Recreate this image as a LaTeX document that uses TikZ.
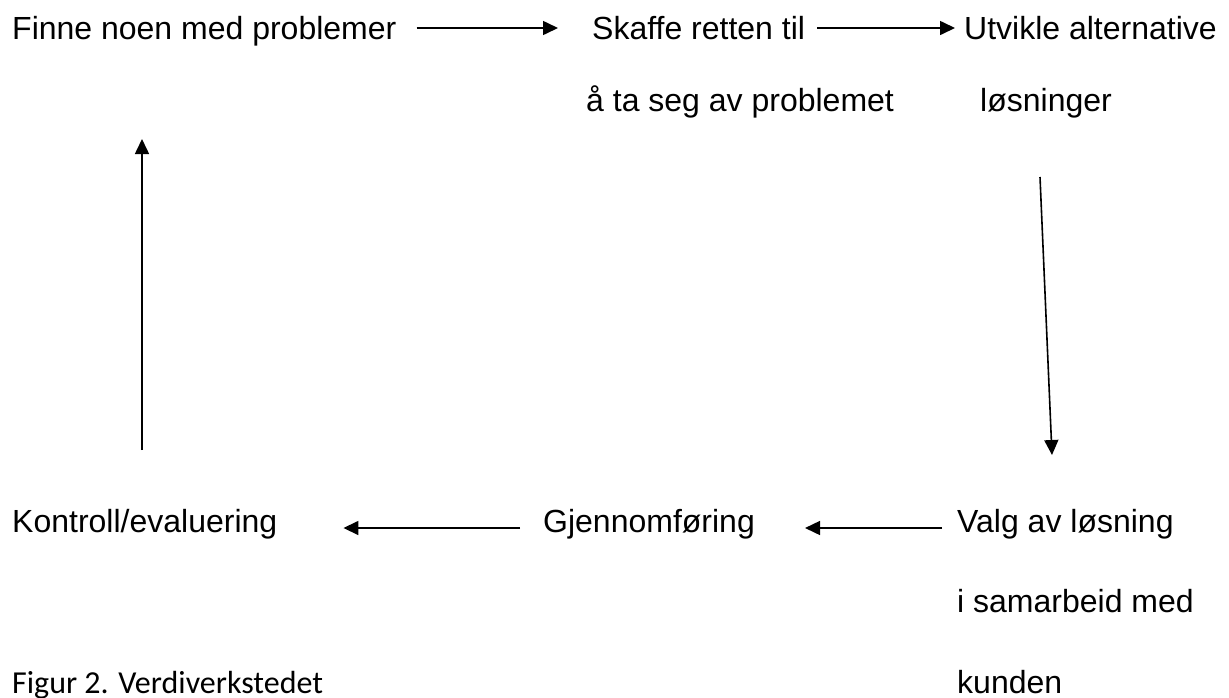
\documentclass[tikz,border=0pt]{standalone}
\usepackage{fontspec}
\setmainfont{Liberation Sans}
\newfontfamily\captionfont{Carlito}
\usepackage{tikz}
\usetikzlibrary{positioning, arrows.meta}

\begin{document}
\begin{tikzpicture}[x=1pt, y=-1pt,
    steptext/.style={anchor=base west, inner sep=0pt, font=\fontsize{32}{38}\selectfont},
    flow/.style={-{Triangle[length=15pt, width=14pt]}, line width=1.6pt}]
    \useasboundingbox (0,0) rectangle (1229,697);

    % Øverste rad
    \node[steptext] (finne) at (12,39) {Finne noen med problemer};
    \node[steptext] (skaffe) at (592,39) {Skaffe retten til};
    \node[steptext] (skaffeb) at (586,111) {å ta seg av problemet};
    \node[steptext] (utvikle) at (964,39) {Utvikle alternative};
    \node[steptext] (losninger) at (980,111) {løsninger};

    % Nederste rad
    \node[steptext] (valg) at (957,532) {Valg av løsning};
    \node[steptext] (samarbeid) at (957,612) {i samarbeid med};
    \node[steptext] (kunden) at (957,693) {kunden};
    \node[steptext] (gjennom) at (543,532) {Gjennomføring};
    \node[steptext] (kontroll) at (12,532) {Kontroll/evaluering};

    % Figurtekst
    \node[anchor=base west, inner sep=0pt, font=\captionfont\fontsize{32}{38}\selectfont] (figur) at (12,693) {Figur 2. Verdiverkstedet};

    % Piler
    \draw[flow] ([xshift=20pt, yshift=11pt]finne.base east) -- ([xshift=-34pt, yshift=11pt]skaffe.base west);
    \draw[flow] ([xshift=12pt, yshift=11pt]skaffe.base east) -- ([xshift=-9pt, yshift=11pt]utvikle.base west);
    \draw[flow] ([xshift=60pt, yshift=-66pt]losninger.base west) -- ([xshift=95pt, yshift=77pt]valg.base west);
    \draw[flow] ([xshift=-15pt, yshift=4pt]valg.base west) -- ([xshift=50pt, yshift=4pt]gjennom.base east);
    \draw[flow] ([xshift=-23pt, yshift=4pt]gjennom.base west) -- ([xshift=66pt, yshift=4pt]kontroll.base east);
    \draw[flow] ([xshift=130pt, yshift=82pt]kontroll.base west) -- ([xshift=130pt, yshift=-100pt]finne.base west);
\end{tikzpicture}
\end{document}
